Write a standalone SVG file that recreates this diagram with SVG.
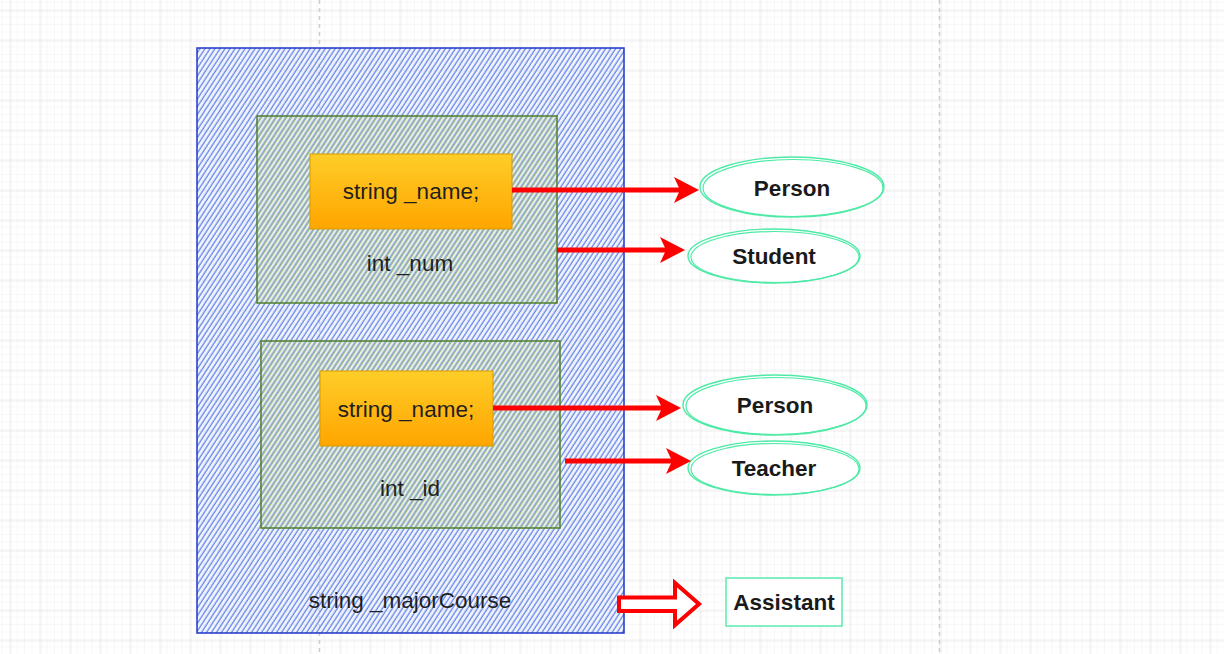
<svg xmlns="http://www.w3.org/2000/svg" width="1224" height="654" viewBox="0 0 1224 654">
<defs>
<pattern id="minor" x="2.5" y="2.5" width="7.5" height="7.5" patternUnits="userSpaceOnUse">
<path d="M7.5 0V7.5M0 7.5H7.5" stroke="#f1f1f1" stroke-width="1" fill="none"/>
</pattern>
<pattern id="major" x="10.5" y="10.5" width="30" height="30" patternUnits="userSpaceOnUse">
<path d="M0 0V30M0 0H30" stroke="#dcdcdc" stroke-width="1" fill="none"/>
</pattern>
<pattern id="hatchBlue" width="4.2" height="10" patternUnits="userSpaceOnUse" patternTransform="rotate(33)">
<line x1="1" y1="0" x2="1" y2="10" stroke="#4169e6" stroke-width="1"/>
</pattern>
<pattern id="hatchGreen" width="4.2" height="10" patternUnits="userSpaceOnUse" patternTransform="rotate(33)">
<line x1="1.9" y1="0" x2="1.9" y2="10" stroke="#86ad62" stroke-width="0.9"/>
</pattern>
<linearGradient id="orange" x1="0" y1="0" x2="0" y2="1">
<stop offset="0" stop-color="#ffcd28"/>
<stop offset="1" stop-color="#ffa500"/>
</linearGradient>
<style>
.code{font-family:"Liberation Sans",Arial,sans-serif;font-size:22.5px;fill:#1f1f1f;text-anchor:middle;dominant-baseline:central}
.lbl{font-family:"Liberation Sans",Arial,sans-serif;font-size:22.5px;font-weight:bold;fill:#1a1a1a;text-anchor:middle;dominant-baseline:central}
.ell{fill:#ffffff;stroke:#4deaa6;stroke-width:1.4}
.ell2{fill:none;stroke:#4deaa6;stroke-width:1.2}
.orange{fill:url(#orange);stroke:#d79b00;stroke-width:1}
.gbox{fill:url(#hatchGreen);stroke:#4f7f2a;stroke-width:1.5}
.shaft{stroke:#ff0000;stroke-width:5;fill:none}
.head{fill:#ff0000}
</style>
</defs>
<rect width="1224" height="654" fill="#ffffff"/>
<rect width="1224" height="654" fill="url(#minor)"/>
<rect width="1224" height="654" fill="url(#major)"/>
<line x1="319.5" y1="0" x2="319.5" y2="654" stroke="#cccccc" stroke-width="1.5" stroke-dasharray="4 4"/>
<line x1="939.5" y1="0" x2="939.5" y2="654" stroke="#cccccc" stroke-width="1.5" stroke-dasharray="4 4"/>

<g id="outer">
<rect x="197" y="48" width="427" height="585" fill="#d6e0fa" fill-opacity="0.35"/>
<rect x="197" y="48" width="427" height="585" fill="url(#hatchBlue)" stroke="#2036c8" stroke-width="1.5"/>
<text class="code" x="410" y="600">string _majorCourse</text>
</g>

<g id="student-box">
<rect x="257" y="116" width="300" height="187" fill="#dfe8d2" fill-opacity="0.3"/>
<rect x="257" y="116" width="300" height="187" class="gbox"/>
<text class="code" x="410" y="263">int _num</text>
</g>
<g id="name1">
<rect x="310" y="154" width="202" height="75" class="orange"/>
<text class="code" x="411" y="191">string _name;</text>
</g>

<g id="teacher-box">
<rect x="261" y="341" width="299" height="187" fill="#dfe8d2" fill-opacity="0.3"/>
<rect x="261" y="341" width="299" height="187" class="gbox"/>
<text class="code" x="410" y="488">int _id</text>
</g>
<g id="name2">
<rect x="320" y="371" width="173" height="75" class="orange"/>
<text class="code" x="406" y="409">string _name;</text>
</g>

<g id="person1">
<ellipse class="ell" cx="792" cy="187" rx="92" ry="30"/>
<ellipse class="ell2" cx="793" cy="188" rx="90" ry="28.5"/>
<text class="lbl" x="792" y="188">Person</text>
</g>
<g id="student">
<ellipse class="ell" cx="774" cy="256" rx="86" ry="27"/>
<ellipse class="ell2" cx="775" cy="257" rx="84" ry="25.5"/>
<text class="lbl" x="774" y="256">Student</text>
</g>
<g id="person2">
<ellipse class="ell" cx="775" cy="405" rx="92" ry="30"/>
<ellipse class="ell2" cx="776" cy="406" rx="90" ry="28.5"/>
<text class="lbl" x="775" y="405">Person</text>
</g>
<g id="teacher">
<ellipse class="ell" cx="774" cy="468" rx="86" ry="27"/>
<ellipse class="ell2" cx="775" cy="469" rx="84" ry="25.5"/>
<text class="lbl" x="774" y="468">Teacher</text>
</g>
<g id="assistant">
<rect x="726" y="578" width="116" height="48" fill="#ffffff" stroke="#4deaa6" stroke-width="1.4"/>
<text class="lbl" x="784" y="602">Assistant</text>
</g>

<g id="connectors">
<line class="shaft" x1="512" y1="190" x2="682" y2="190"/>
<polygon class="head" points="699,190 674,177 680,190 674,203"/>
<line class="shaft" x1="557" y1="250" x2="668" y2="250"/>
<polygon class="head" points="685,250 660,237 666,250 660,263"/>
<line class="shaft" x1="493" y1="408" x2="664" y2="408"/>
<polygon class="head" points="681,408 656,395 662,408 656,421"/>
<line class="shaft" x1="565" y1="461" x2="674" y2="461"/>
<polygon class="head" points="691,461 666,448 672,461 666,474"/>
<polygon points="619,597.5 675,597.5 675,583 699,604 675,625 675,611 619,611" fill="#ffffff" stroke="#ff0000" stroke-width="4" stroke-linejoin="miter"/>
</g>
</svg>
